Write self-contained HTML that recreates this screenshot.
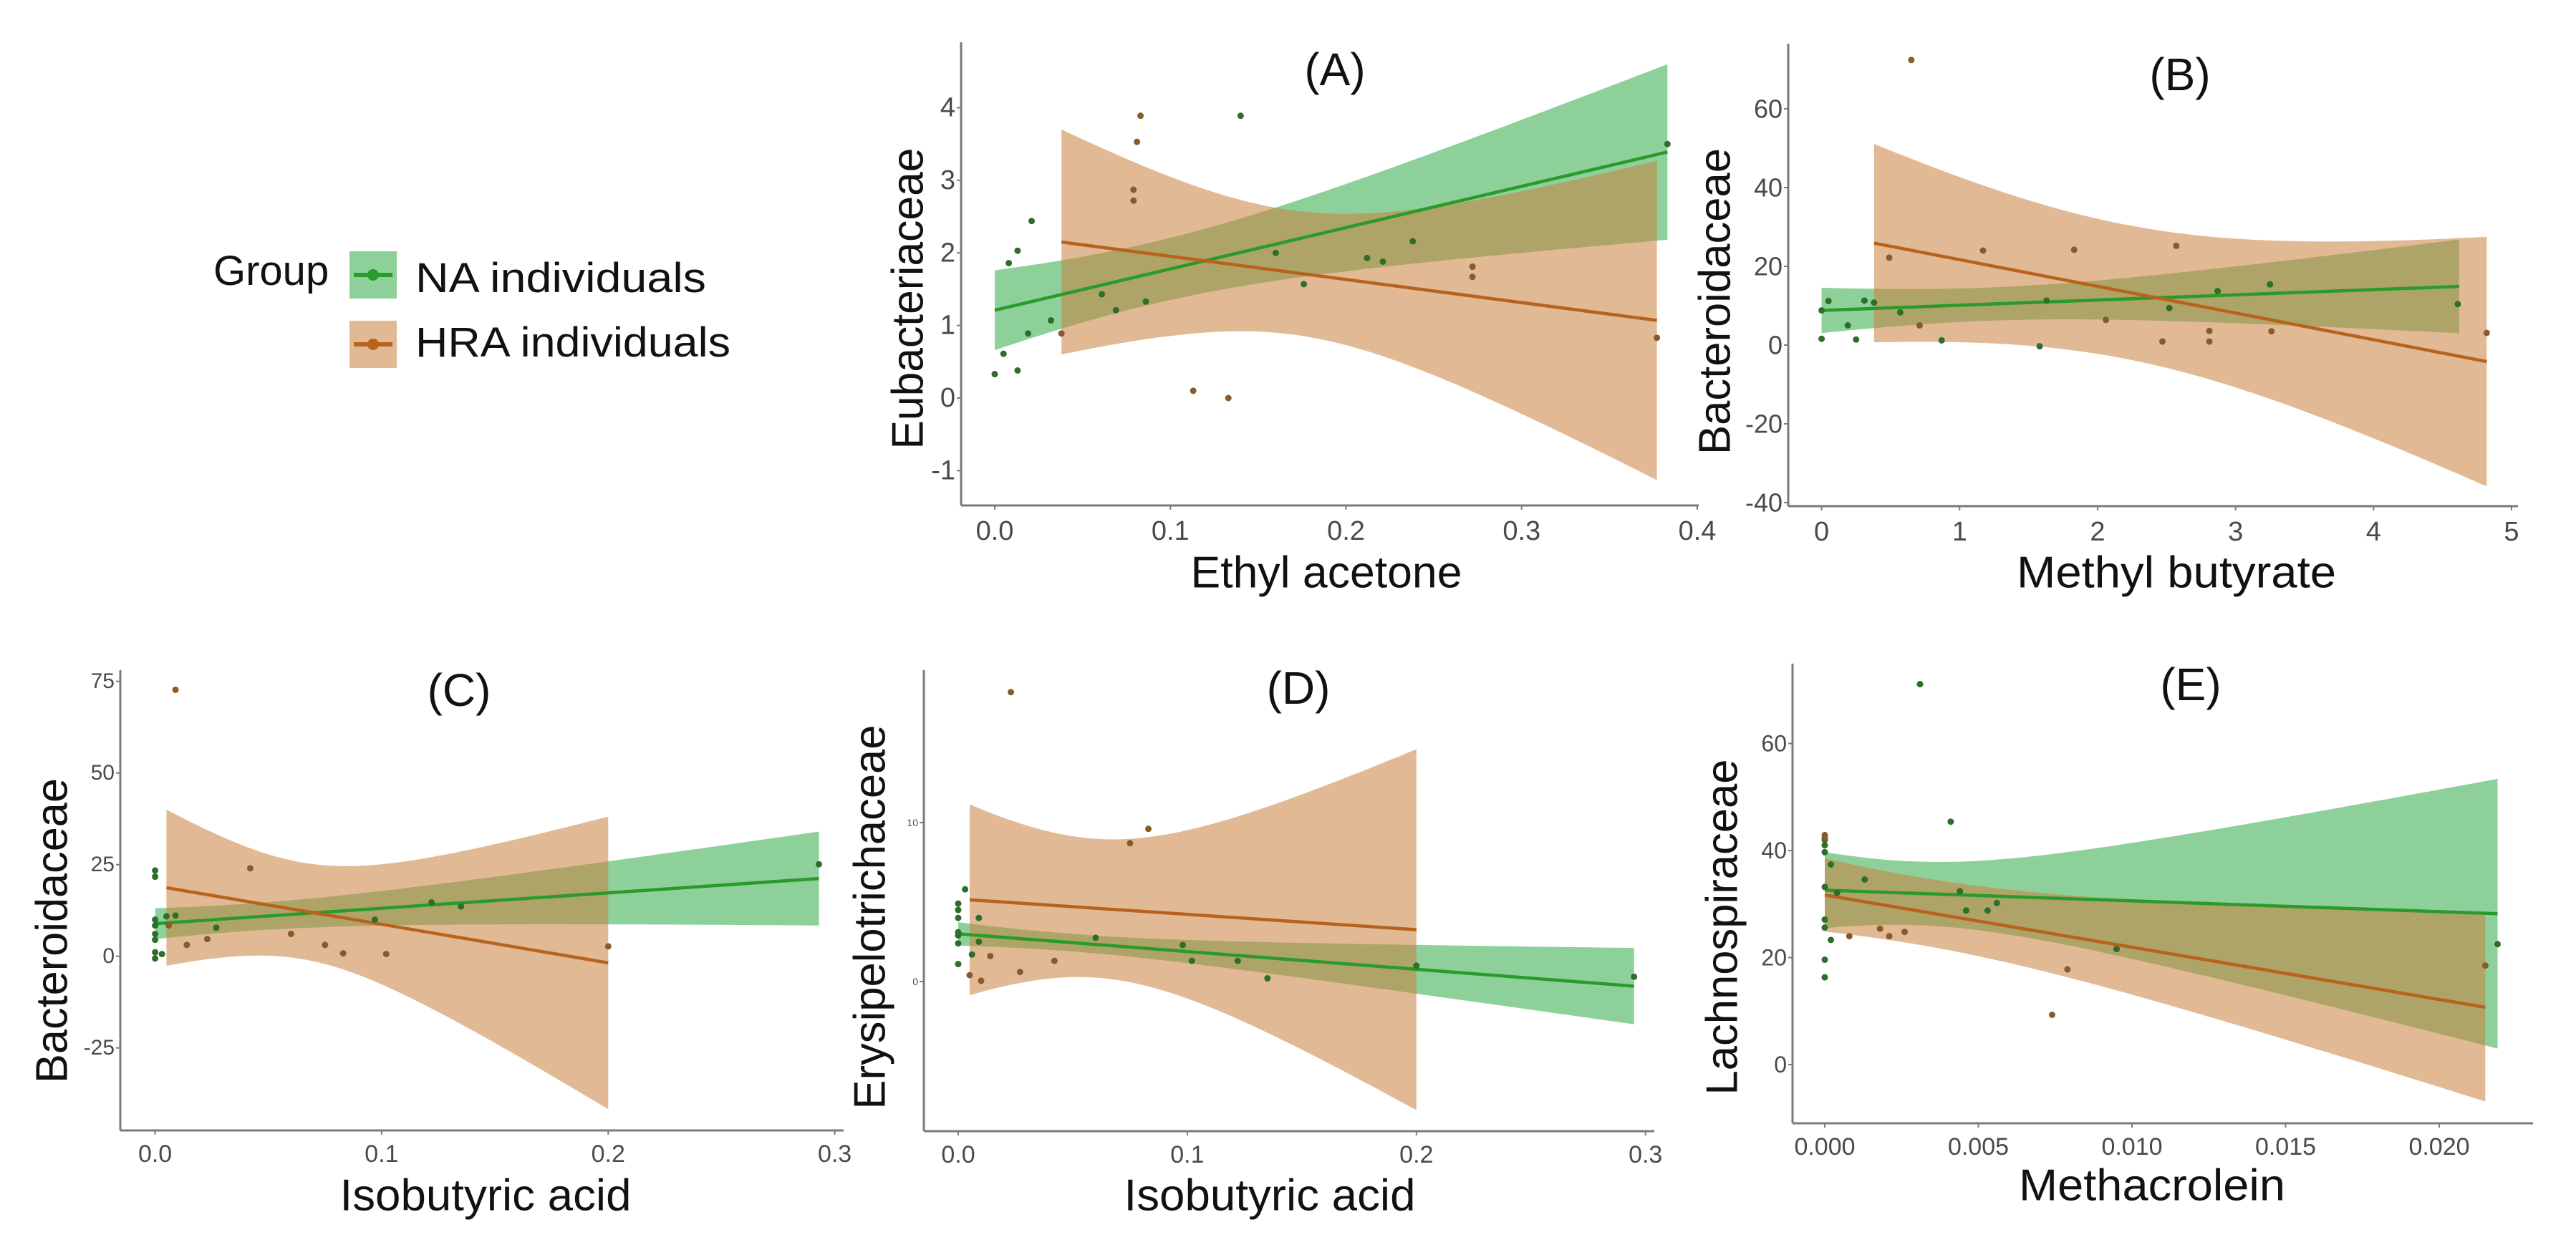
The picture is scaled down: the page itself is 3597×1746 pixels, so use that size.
<!DOCTYPE html>
<html><head><meta charset="utf-8"><style>
html,body{margin:0;padding:0;background:#fff;}
svg{display:block;}
text{font-family:"Liberation Sans",sans-serif;}
</style></head><body>
<svg id="fig" width="3597" height="1746" viewBox="0 0 3597 1746" xmlns="http://www.w3.org/2000/svg">
<rect width="3597" height="1746" fill="#fff"/>
<g>
  <text x="298" y="398" font-size="58" fill="#111">Group</text>
  <g>
    <rect x="488" y="351" width="66" height="66" fill="rgba(29,161,53,0.5)"/>
    <line x1="494" y1="384" x2="548" y2="384" stroke="#2a9a2a" stroke-width="6"/>
    <circle cx="521" cy="384" r="8" fill="#2a9a2a"/>
    <text x="580" y="408" font-size="58" fill="#111" textLength="406" lengthAdjust="spacingAndGlyphs">NA individuals</text>
  </g>
  <g>
    <rect x="488" y="448" width="66" height="66" fill="rgba(202,128,62,0.55)"/>
    <line x1="494" y1="481" x2="548" y2="481" stroke="#b8621c" stroke-width="6"/>
    <circle cx="521" cy="481" r="8" fill="#b8621c"/>
    <text x="580" y="498" font-size="58" fill="#111" textLength="440" lengthAdjust="spacingAndGlyphs">HRA individuals</text>
  </g>
</g>
</svg>
<script>
// ---------- Panel data ----------
// Panel A: Ethyl acetone vs Eubacteriaceae
const aNAx = [0,0.005,0.008,0.013,0.013,0.019,0.021,0.032,0.061,0.069,0.086,0.14,0.16,0.176,0.212,0.221,0.238,0.383];
const aNAy = [0.33,0.61,1.86,2.03,0.38,0.89,2.44,1.07,1.43,1.21,1.33,3.89,2.0,1.57,1.93,1.88,2.16,3.5];
const aHRAx = [0.038,0.079,0.079,0.081,0.083,0.113,0.133,0.272,0.272,0.377];
const aHRAy = [0.89,2.72,2.87,3.53,3.89,0.1,0,1.81,1.67,0.83];
// fit: [xStart, xEnd, yStart, yEnd, halfWidthStart, halfWidthEnd, centerX]
const aNAfit = [0,0.383,1.21,3.39,0.55,1.21,0.09];
const aHRAfit = [0.038,0.377,2.15,1.07,1.55,2.2,0.17];
const aXticks = [0,0.1,0.2,0.3,0.4];
const aXlabels = ["0.0","0.1","0.2","0.3","0.4"];
const aYticks = [-1,0,1,2,3,4];
const aYlabels = ["-1","0","1","2","3","4"];

// Panel B: Methyl butyrate vs Bacteroidaceae
const bNAx = [0,0,0.05,0.19,0.25,0.31,0.38,0.57,0.87,1.58,1.63,2.52,2.87,3.25,4.61];
const bNAy = [8.8,1.6,11.2,5,1.4,11.3,10.8,8.3,1.2,-0.3,11.3,9.4,13.7,15.4,10.4];
const bHRAx = [0.65,0.49,0.71,1.17,1.83,2.06,2.47,2.57,2.81,2.81,3.26,4.82];
const bHRAy = [72.4,22.2,5,24,24.2,6.4,0.9,25.2,0.9,3.6,3.5,3.1];
const bNAfit = [0,4.62,8.8,14.9,5.75,11.9,1.2];
const bHRAfit = [0.38,4.82,25.9,-4.2,25.2,31.7,2.2];
const bXticks = [0,1,2,3,4,5];
const bXlabels = ["0","1","2","3","4","5"];
const bYticks = [-40,-20,0,20,40,60];
const bYlabels = ["-40","-20","0","20","40","60"];

// Panel C: Isobutyric acid vs Bacteroidaceae
const cNAx = [0,0,0,0,0,0,0,0,0.003,0.005,0.009,0.027,0.097,0.122,0.135,0.293];
const cNAy = [23.4,21.7,10,8.4,6.1,1.1,-0.6,4.5,0.6,10.9,11.1,7.8,10,14.7,13.6,25.1];
const cHRAx = [0.009,0.006,0.014,0.023,0.042,0.06,0.075,0.083,0.102,0.2];
const cHRAy = [72.7,8.4,3.1,4.7,24,6.1,3.1,0.8,0.6,2.7];
const cNAfit = [0,0.293,8.9,21.2,4.2,12.8,0.04];
const cHRAfit = [0.005,0.2,18.7,-1.8,21.3,39.9,0.065];
const cXticks = [0,0.1,0.2,0.3];
const cXlabels = ["0.0","0.1","0.2","0.3"];
const cYticks = [-25,0,25,50,75];
const cYlabels = ["-25","0","25","50","75"];

// Panel D: Isobutyric acid vs Erysipelotrichaceae
const dNAx = [0,0,0,0,0,0,0,0.003,0.006,0.009,0.009,0.06,0.098,0.102,0.122,0.135,0.2,0.295];
const dNAy = [4.9,4.5,4,3.1,2.9,2.4,1.1,5.8,1.7,4,2.5,2.75,2.3,1.3,1.3,0.2,1,0.3];
const dHRAx = [0.023,0.075,0.083,0.005,0.01,0.014,0.027,0.042];
const dHRAy = [18.2,8.7,9.6,0.4,0.05,1.6,0.6,1.3];
const dNAfit = [0,0.295,3.0,-0.29,0.73,2.4,0.05];
const dHRAfit = [0.005,0.2,5.14,3.26,6.0,11.35,0.06];
const dXticks = [0,0.1,0.2,0.3];
const dXlabels = ["0.0","0.1","0.2","0.3"];
const dYticks = [0,10];
const dYlabels = ["0","10"];

// Panel E: Methacrolein vs Lachnospiraceae
const eNAx = [0,0,0,0,0,0,0,0,0.0002,0.0004,0.0013,0.0031,0.0041,0.0044,0.0046,0.0053,0.0056,0.0095,0.0219,0.0002];
const eNAy = [42,41,39.7,33.2,27.1,25.6,19.6,16.3,37.4,32.1,34.6,71.1,45.4,32.4,28.8,28.8,30.2,21.6,22.5,23.3];
const eHRAx = [0,0,0.0008,0.0018,0.0021,0.0026,0.0074,0.0079,0.0215];
const eHRAy = [42.9,42.4,24,25.4,24,24.8,9.3,17.8,18.5];
const eNAfit = [0,0.0219,32.6,28.2,7.1,25.2,0.003];
const eHRAfit = [0,0.0215,31.7,10.7,6.85,17.6,0.003];
const eXticks = [0,0.005,0.01,0.015,0.02];
const eXlabels = ["0.000","0.005","0.010","0.015","0.020"];
const eYticks = [0,20,40,60];
const eYlabels = ["0","20","40","60"];

const NS = "http://www.w3.org/2000/svg";
const svg = document.getElementById('fig');
function mk(tag, attrs, parent){
  const e = document.createElementNS(NS, tag);
  for (const k in attrs) e.setAttribute(k, attrs[k]);
  (parent||svg).appendChild(e);
  return e;
}
function lin(d0,d1,p0,p1){ return v => p0 + (v-d0)*(p1-p0)/(d1-d0); }

function band(fit, X, Y, fill, parent, name){
  const [x0,x1,y0,y1,h0,h1,c] = fit;
  const d0=(x0-c)*(x0-c), d1=(x1-c)*(x1-c);
  let b2 = Math.abs(d1-d0)<1e-15 ? 0 : (h1*h1-h0*h0)/(d1-d0);
  let a2 = h0*h0 - b2*d0;
  if (a2 < 0) a2 = 1e-9;
  const up=[], lo=[];
  const N=60;
  for (let i=0;i<=N;i++){
    const x = x0+(x1-x0)*i/N;
    const y = y0+(y1-y0)*(x-x0)/(x1-x0);
    const hw = Math.sqrt(Math.max(a2+b2*(x-c)*(x-c),0));
    up.push(X(x).toFixed(1)+','+Y(y+hw).toFixed(1));
    lo.unshift(X(x).toFixed(1)+','+Y(y-hw).toFixed(1));
  }
  const p = mk('polygon',{points:up.concat(lo).join(' '),fill:fill},parent);
  
  
}
function fitLine(fit, X, Y, color, parent, name){
  const l = mk('line',{x1:X(fit[0]),y1:Y(fit[2]),x2:X(fit[1]),y2:Y(fit[3]),stroke:color,'stroke-width':4.5},parent);
  
  
}
function pts(xs, ys, X, Y, color, parent, name){
  for (let i=0;i<xs.length;i++){
    const c = mk('circle',{cx:X(xs[i]),cy:Y(ys[i]),r:4.5,fill:color},parent);
    
    
  }
}

const GREEN_BAND='rgba(29,161,53,0.5)', ORANGE_BAND='rgba(202,128,62,0.55)';
const GREEN='#2a9a2a', ORANGE='#b8621c', GDOT='#2d6e2a', ODOT='#8a5a2a';

function panel(cfg){
  const g = mk('g',{});
  
  
  const X = lin(cfg.xd[0],cfg.xd[1],cfg.xp[0],cfg.xp[1]);
  const Y = lin(cfg.yd[0],cfg.yd[1],cfg.yp[0],cfg.yp[1]);
  band(cfg.naFit,X,Y,GREEN_BAND,g,'na-confidence-band');
  band(cfg.hraFit,X,Y,ORANGE_BAND,g,'hra-confidence-band');
  fitLine(cfg.naFit,X,Y,GREEN,g,'na-fit-line');
  fitLine(cfg.hraFit,X,Y,ORANGE,g,'hra-fit-line');
  pts(cfg.naX,cfg.naY,X,Y,GDOT,g,'na-point');
  pts(cfg.hraX,cfg.hraY,X,Y,ODOT,g,'hra-point');
  // axes
  const ya = mk('line',{x1:cfg.ax,y1:cfg.top,x2:cfg.ax,y2:cfg.ay,stroke:'#7a7a7a','stroke-width':3},g);
  
  
  const xa = mk('line',{x1:cfg.ax,y1:cfg.ay,x2:cfg.right,y2:cfg.ay,stroke:'#7a7a7a','stroke-width':3},g);
  
  
  cfg.xt.forEach((v,i)=>{
    mk('line',{x1:X(v),y1:cfg.ay,x2:X(v),y2:cfg.ay+6,stroke:'#7a7a7a','stroke-width':2},g);
    const t = mk('text',{x:X(v),y:cfg.ay+cfg.xfs+10,'font-size':cfg.xfs,fill:'#4a4a4a','text-anchor':'middle'},g);
    t.textContent = cfg.xl[i];
    
    
  });
  cfg.yt.forEach((v,i)=>{
    mk('line',{x1:cfg.ax-6,y1:Y(v),x2:cfg.ax,y2:Y(v),stroke:'#7a7a7a','stroke-width':2},g);
    const t = mk('text',{x:cfg.ax-8,y:Y(v),'font-size':cfg.yfs,fill:'#4a4a4a','text-anchor':'end','dominant-baseline':'central'},g);
    t.textContent = cfg.yl[i];
    
    
  });
  const tt = mk('text',{x:cfg.title[1],y:cfg.title[2],'font-size':64,fill:'#111','text-anchor':'middle','dominant-baseline':'central'},g);
  tt.textContent = cfg.title[0];
  
  
  const xt = mk('text',{x:cfg.xlab[1],y:cfg.xlab[2],'font-size':62,fill:'#111','text-anchor':'middle','dominant-baseline':'central',textLength:cfg.xlab[3],lengthAdjust:'spacingAndGlyphs'},g);
  xt.textContent = cfg.xlab[0];
  
  
  const yt = mk('text',{x:0,y:0,'font-size':62,fill:'#111','text-anchor':'middle','dominant-baseline':'central',textLength:cfg.ylab[3],lengthAdjust:'spacingAndGlyphs',transform:`translate(${cfg.ylab[1]},${cfg.ylab[2]}) rotate(-90)`},g);
  yt.textContent = cfg.ylab[0];
  
  
}

panel({name:'panel-a',xd:[0,0.4],xp:[1389,2370],yd:[0,4],yp:[556,150.5],
  ax:1342,ay:706,top:59,right:2372,naX:aNAx,naY:aNAy,hraX:aHRAx,hraY:aHRAy,naFit:aNAfit,hraFit:aHRAfit,
  xt:aXticks,xl:aXlabels,yt:aYticks,yl:aYlabels,xfs:38,yfs:38,
  title:['(A)',1864,97],xlab:['Ethyl acetone',1852,800,379],ylab:['Eubacteriaceae',1268,417,421]});
panel({name:'panel-b',xd:[0,5],xp:[2543.6,3507],yd:[0,60],yp:[482,152],
  ax:2497,ay:707,top:61,right:3516,naX:bNAx,naY:bNAy,hraX:bHRAx,hraY:bHRAy,naFit:bNAfit,hraFit:bHRAfit,
  xt:bXticks,xl:bXlabels,yt:bYticks,yl:bYlabels,xfs:38,yfs:36,
  title:['(B)',3044,104],xlab:['Methyl butyrate',3039,800,446],ylab:['Bacteroidaceae',2395,421,428]});
panel({name:'panel-c',xd:[0,0.3],xp:[216.6,1165.6],yd:[0,75],yp:[1335.7,951.7],
  ax:168,ay:1579,top:936,right:1178,naX:cNAx,naY:cNAy,hraX:cHRAx,hraY:cHRAy,naFit:cNAfit,hraFit:cHRAfit,
  xt:cXticks,xl:cXlabels,yt:cYticks,yl:cYlabels,xfs:34,yfs:30,
  title:['(C)',641,964],xlab:['Isobutyric acid',678,1670,407],ylab:['Bacteroidaceae',73,1300,426]});
panel({name:'panel-d',xd:[0,0.2],xp:[1338,1977.8],yd:[0,10],yp:[1371,1148.9],
  ax:1290,ay:1580,top:936,right:2310,naX:dNAx,naY:dNAy,hraX:dHRAx,hraY:dHRAy,naFit:dNAfit,hraFit:dHRAfit,
  xt:dXticks,xl:dXlabels,yt:dYticks,yl:dYlabels,xfs:34,yfs:14,
  title:['(D)',1813,961],xlab:['Isobutyric acid',1773,1670,407],ylab:['Erysipelotrichaceae',1215,1281,537]});
panel({name:'panel-e',xd:[0,0.02],xp:[2548,3406],yd:[0,60],yp:[1487,1038.6],
  ax:2503,ay:1569,top:927,right:3537,naX:eNAx,naY:eNAy,hraX:eHRAx,hraY:eHRAy,naFit:eNAfit,hraFit:eHRAfit,
  xt:eXticks,xl:eXlabels,yt:eYticks,yl:eYlabels,xfs:34,yfs:32,
  title:['(E)',3059,956],xlab:['Methacrolein',3005,1656,372],ylab:['Lachnospiraceae',2405,1295,469]});
</script>
</body></html>
